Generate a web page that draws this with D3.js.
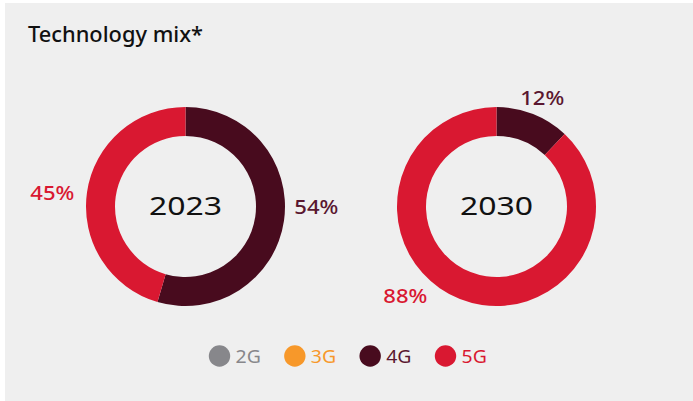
<!DOCTYPE html>
<html>
<head>
<meta charset="utf-8">
<script src="https://cdn.jsdelivr.net/npm/d3@7"></script>
<style>
  html, body { margin: 0; padding: 0; background: #ffffff; }
  svg { display: block; }
  text { font-family: "Noto Sans", "DejaVu Sans", sans-serif; }
</style>
</head>
<body>
<svg id="chart" width="693" height="401"></svg>
<script>
// ---- data ----
const technologies = ["2G", "3G", "4G", "5G"];
const years = ["2023", "2030"];
const share2023 = [0, 0, 54, 45];
const share2030 = [0, 0, 12, 88];
const labels2023 = ["", "", "54%", "45%"];
const labels2030 = ["", "", "12%", "88%"];
const titleText = "Technology mix*";

// ---- styles ----
const colors = ["#87878b", "#f7982a", "#480b1e", "#d91831"];
const labelColors = ["#87878b", "#f7982a", "#5a1730", "#d91831"];
const bg = "#efefef";

const svg = d3.select("#chart");
svg.append("rect").attr("x", 5).attr("y", 3).attr("width", 688).attr("height", 398).attr("fill", bg);

svg.append("text")
  .attr("x", 28).attr("y", 41.7)
  .attr("font-size", 21).attr("font-weight", 500).attr("fill", "#111")
  .attr("textLength", 175).attr("lengthAdjust", "spacingAndGlyphs")
  .text(titleText);

const outerR = 99.5, innerR = 70.5;
const arc = d3.arc().innerRadius(innerR).outerRadius(outerR);
const pie = d3.pie().sort(null).value(d => d.v);

// label placement (polar, degrees clockwise from top, radius) per donut
const labelPolar = [
  { 2: [90.1, 130.8], 3: [275.9, 133.9] },
  { 2: [22.9, 117.5], 3: [225.5, 127.9] }
];

const centerX = d3.scalePoint().domain(years).range([185.5, 496.5]);
const cy = 206.5;

[share2023, share2030].forEach((vals, i) => {
  const data = technologies.map((t, j) => ({ t, v: vals[j], j, label: [labels2023, labels2030][i][j] }));
  const g = svg.append("g").attr("transform", `translate(${centerX(years[i])},${cy})`);
  const arcs = pie(data).filter(d => d.data.v > 0);
  g.selectAll("path").data(arcs).join("path")
    .attr("d", arc)
    .attr("fill", d => colors[d.data.j]);

  g.selectAll("text.pct").data(arcs).join("text")
    .attr("class", "pct")
    .attr("x", d => labelPolar[i][d.data.j][1] * Math.sin(labelPolar[i][d.data.j][0] * Math.PI / 180))
    .attr("y", d => -labelPolar[i][d.data.j][1] * Math.cos(labelPolar[i][d.data.j][0] * Math.PI / 180) + 7.2)
    .attr("text-anchor", "middle")
    .attr("font-size", 20)
    .attr("font-weight", 500)
    .attr("fill", d => labelColors[d.data.j])
    .attr("textLength", 44)
    .attr("lengthAdjust", "spacingAndGlyphs")
    .text(d => d.data.label);

  g.append("text")
    .attr("x", 0).attr("y", 8)
    .attr("text-anchor", "middle")
    .attr("font-size", 25)
    .attr("fill", "#111")
    .attr("textLength", 73).attr("lengthAdjust", "spacingAndGlyphs")
    .text(years[i]);
});

// legend
const legendX = d3.scalePoint().domain(technologies).range([219.5, 445.5]);
const lg = svg.append("g");
technologies.forEach((t, j) => {
  lg.append("circle").attr("cx", legendX(t)).attr("cy", 356).attr("r", 10.7).attr("fill", colors[j]);
  lg.append("text")
    .attr("x", legendX(t) + 16).attr("y", 363.3)
    .attr("font-size", 18.5).attr("fill", labelColors[j])
    .attr("textLength", 25.3).attr("lengthAdjust", "spacingAndGlyphs")
    .text(t);
});
</script>
</body>
</html>
